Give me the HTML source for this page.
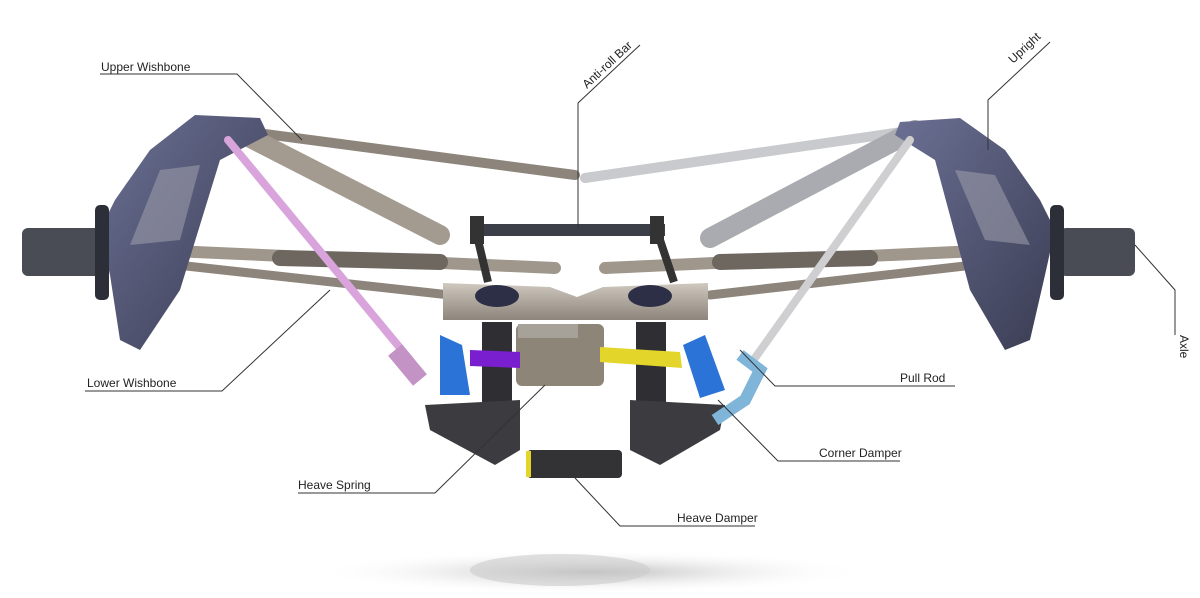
<!DOCTYPE html>
<html><head><meta charset="utf-8"><style>
html,body{margin:0;padding:0;background:#fff;width:1200px;height:598px;overflow:hidden}
text{font-family:"Liberation Sans",sans-serif;font-size:12px;fill:#222}
</style></head><body>
<svg width="1200" height="598" viewBox="0 0 1200 598" xmlns="http://www.w3.org/2000/svg">
<defs>
<radialGradient id="sh" cx="50%" cy="50%" r="50%"><stop offset="0" stop-color="#bbb"/><stop offset="1" stop-color="#fff" stop-opacity="0"/></radialGradient>
<linearGradient id="beige" x1="0" y1="0" x2="0" y2="1"><stop offset="0" stop-color="#cfc8be"/><stop offset="1" stop-color="#8d857b"/></linearGradient>
<linearGradient id="blu" x1="0" y1="0" x2="1" y2="1"><stop offset="0" stop-color="#6b7094"/><stop offset="1" stop-color="#3a3c52"/></linearGradient>
</defs>
<ellipse cx="590" cy="572" rx="280" ry="22" fill="url(#sh)"/>
<ellipse cx="560" cy="570" rx="90" ry="16" fill="#ccc" opacity=".6"/>
<g stroke-linecap="round" fill="none">
<path d="M235 130 L575 175" stroke="#8d857b" stroke-width="10"/>
<path d="M235 130 L440 235" stroke="#a49b90" stroke-width="20"/>
<path d="M915 130 L585 178" stroke="#c9cace" stroke-width="10"/>
<path d="M915 130 L710 238" stroke="#aaabb0" stroke-width="20"/>
<path d="M150 250 L555 268" stroke="#9f978c" stroke-width="12"/>
<path d="M150 262 L450 295" stroke="#8d857b" stroke-width="9"/>
<path d="M1000 250 L605 268" stroke="#9f978c" stroke-width="12"/>
<path d="M1000 262 L710 295" stroke="#8d857b" stroke-width="9"/>
<path d="M280 258 L440 262" stroke="#6d6760" stroke-width="16"/>
<path d="M870 258 L720 262" stroke="#6d6760" stroke-width="16"/>
</g>
<path d="M195 115 L260 118 L268 135 L220 160 L180 290 L140 350 L120 340 L110 275 L100 230 L115 200 L150 150 Z" fill="url(#blu)"/>
<path d="M160 170 L200 165 L180 240 L130 245 Z" fill="#9a9aa8" opacity=".6"/>
<rect x="22" y="228" width="85" height="48" rx="6" fill="#4a4c55"/>
<rect x="95" y="205" width="14" height="95" rx="5" fill="#2d2f38"/>
<path d="M960 118 L900 122 L895 135 L935 160 L970 290 L1005 350 L1030 340 L1045 275 L1055 230 L1040 200 L1005 150 Z" fill="url(#blu)"/>
<path d="M955 170 L995 175 L1030 245 L985 240 Z" fill="#9a9aa8" opacity=".6"/>
<rect x="1060" y="228" width="75" height="48" rx="6" fill="#4a4c55"/>
<rect x="1050" y="205" width="14" height="95" rx="5" fill="#2d2f38"/>
<rect x="470" y="224" width="195" height="12" fill="#3c3e48"/>
<rect x="470" y="216" width="14" height="28" fill="#333"/>
<rect x="650" y="216" width="14" height="28" fill="#333"/>
<path d="M478 240 L488 282 M660 240 L674 282" stroke="#333" stroke-width="8"/>
<path d="M443 283 L550 287 L577 297 L603 287 L708 283 L708 320 L443 320 Z" fill="url(#beige)"/>
<ellipse cx="497" cy="296" rx="22" ry="11" fill="#2c2f45"/>
<ellipse cx="650" cy="296" rx="22" ry="11" fill="#2c2f45"/>
<rect x="482" y="322" width="30" height="120" fill="#2f2f33"/>
<rect x="636" y="322" width="30" height="120" fill="#2f2f33"/>
<path d="M425 405 L520 400 L520 450 L495 465 L430 430 Z" fill="#3c3c40"/>
<path d="M630 400 L725 405 L720 430 L660 465 L630 450 Z" fill="#3c3c40"/>
<rect x="516" y="324" width="88" height="62" rx="6" fill="#8d8578"/>
<rect x="518" y="324" width="60" height="14" fill="#a7a299"/>
<path d="M470 350 L520 352 L520 368 L470 366 Z" fill="#7a1fd0"/>
<path d="M600 347 L680 352 L682 368 L600 362 Z" fill="#e3d52a"/>
<path d="M440 335 L462 345 L470 395 L440 395 Z" fill="#2b73d6"/>
<path d="M683 345 L705 335 L725 390 L700 398 Z" fill="#2b73d6"/>
<rect x="527" y="450" width="95" height="28" rx="4" fill="#333336"/>
<rect x="526" y="451" width="5" height="26" fill="#e3d52a"/>
<path d="M228 140 L410 360" stroke="#d9a4dc" stroke-width="8" stroke-linecap="round"/>
<path d="M395 350 L420 380" stroke="#c493c6" stroke-width="18"/>
<path d="M910 140 L755 358" stroke="#cfcfd2" stroke-width="8" stroke-linecap="round"/>
<path d="M740 355 L760 370 L745 400 L715 420" stroke="#7fb5d8" stroke-width="12" fill="none"/>
<g stroke="#333" stroke-width="1" fill="none">
<polyline points="100,74 237,74 302,140"/>
<polyline points="640,45 578,103 578,228"/>
<polyline points="1050,42 988,100 988,150"/>
<polyline points="1135,245 1175,290 1175,335"/>
<polyline points="85,391 222,391 330,290"/>
<polyline points="955,386 775,386 740,350"/>
<polyline points="900,461 778,461 718,400"/>
<polyline points="298,493 435,493 545,385"/>
<polyline points="755,526 620,526 575,478"/>
</g>
<text x="101" y="71">Upper Wishbone</text>
<text transform="translate(587,89) rotate(-43)">Anti-roll Bar</text>
<text transform="translate(1013,64) rotate(-43)">Upright</text>
<text transform="translate(1180,335) rotate(90)">Axle</text>
<text x="87" y="387">Lower Wishbone</text>
<text x="900" y="382">Pull Rod</text>
<text x="819" y="457">Corner Damper</text>
<text x="298" y="489">Heave Spring</text>
<text x="677" y="522">Heave Damper</text>
</svg>
</body></html>
